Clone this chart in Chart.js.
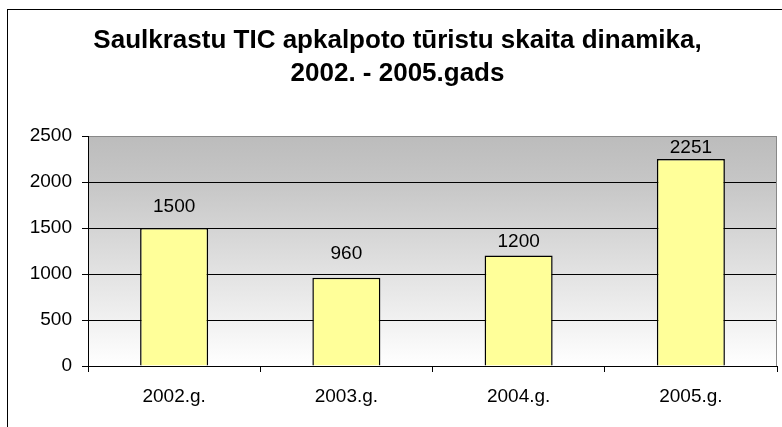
<!DOCTYPE html>
<html>
<head>
<meta charset="utf-8">
<script src="https://cdn.jsdelivr.net/npm/chart.js@4"></script>
<style>
  html, body { margin: 0; padding: 0; background: #fff; }
  #wrap { width: 782px; height: 427px; }
</style>
</head>
<body>
<div id="wrap"><canvas id="graphCanvas" width="782" height="427"></canvas></div>
<script>
const ctx = document.getElementById('graphCanvas').getContext('2d');

const years = ['2002.g.', '2003.g.', '2004.g.', '2005.g.'];
const tourists = [1500, 960, 1200, 2251];
const titleLines = ['Saulkrastu TIC apkalpoto tūristu skaita dinamika,', '2002. - 2005.gads'];

const FONT = '"Liberation Sans", Arial, Helvetica, sans-serif';

// fons ar gradientu, rāmis un vērtību etiķetes
const decor = {
    id: 'decor',
    beforeDraw(chart) {
        const { ctx, chartArea: a } = chart;
        const g = ctx.createLinearGradient(0, a.top, 0, a.bottom);
        g.addColorStop(0, '#bcbcbc');
        g.addColorStop(0.2, '#c6c6c6');
        g.addColorStop(1, '#ffffff');
        ctx.save();
        ctx.fillStyle = g;
        ctx.fillRect(a.left, a.top, a.right - a.left, a.bottom - a.top);
        ctx.restore();
    },
    afterDraw(chart, args, opts) {
        const { ctx, chartArea: a } = chart;
        ctx.save();
        ctx.strokeStyle = '#888';
        ctx.lineWidth = 1;
        ctx.beginPath();
        ctx.moveTo(Math.round(a.right) - 0.5, a.top);
        ctx.lineTo(Math.round(a.right) - 0.5, a.bottom);
        ctx.stroke();

        ctx.strokeStyle = '#000';
        ctx.strokeRect(7.5, 9.5, 820, 500);

        ctx.fillStyle = '#000';
        ctx.font = '19px ' + FONT;
        ctx.textAlign = 'center';
        ctx.textBaseline = 'alphabetic';
        const meta = chart.getDatasetMeta(0);
        meta.data.forEach((bar, i) => {
            const gap = opts.gaps[i] ?? 10;
            ctx.fillText(String(tourists[i]), bar.x, bar.y - gap);
        });
        ctx.restore();
    }
};

new Chart(ctx, {
    type: 'bar',
    data: {
        labels: years,
        datasets: [{
            data: tourists,
            backgroundColor: '#ffff99',
            borderColor: '#000',
            borderWidth: 1.5,
            categoryPercentage: 1,
            barPercentage: 0.395
        }]
    },
    options: {
        responsive: false,
        animation: false,
        layout: { padding: { left: 18, right: 5, top: 0, bottom: 0 } },
        scales: {
            x: {
                afterFit: s => { s.height = 61; },
                grid: {
                    offset: true,
                    drawOnChartArea: false,
                    tickLength: 6,
                    color: '#000'
                },
                border: { color: '#000' },
                ticks: {
                    padding: 13,
                    color: '#000',
                    font: { family: FONT, size: 19 }
                }
            },
            y: {
                min: 0,
                max: 2500,
                afterFit: s => { s.width = 70; },
                grid: {
                    tickLength: 6,
                    tickColor: '#000',
                    color: c => c.tick && c.tick.value === 2500 ? '#888' : '#000'
                },
                border: { color: '#000' },
                ticks: {
                    stepSize: 500,
                    padding: 10,
                    color: '#000',
                    font: { family: FONT, size: 19 },
                    callback: v => String(v)
                }
            }
        },
        plugins: {
            legend: { display: false },
            tooltip: { enabled: false },
            title: {
                display: true,
                text: titleLines,
                color: '#000',
                font: { family: FONT, size: 26, weight: 'bold', lineHeight: 1.27 },
                padding: { top: 24, bottom: 46 }
            },
            decor: { gaps: [16, 19, 9, 6] }
        }
    },
    plugins: [decor]
});
</script>
</body>
</html>
